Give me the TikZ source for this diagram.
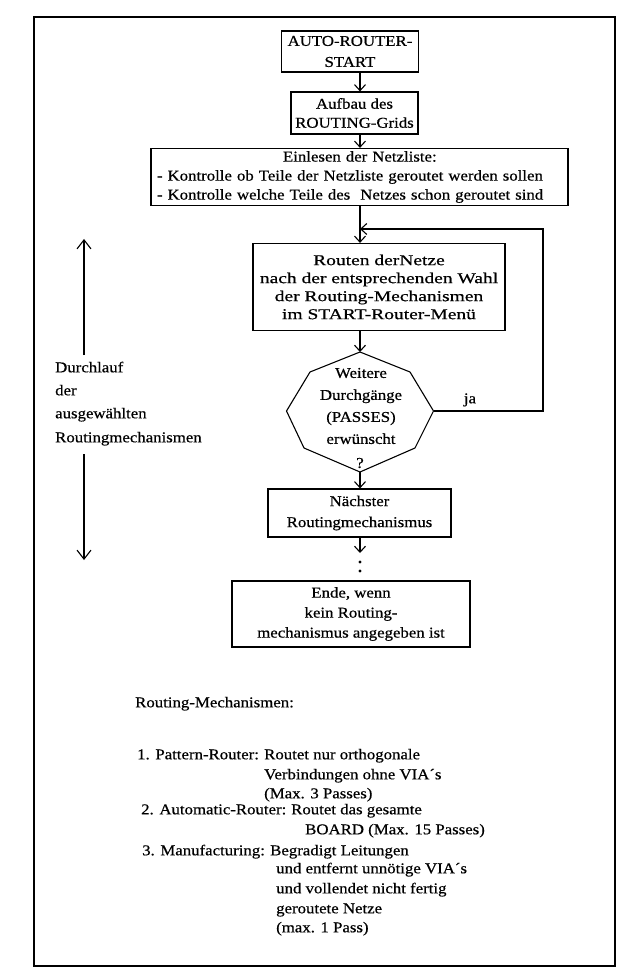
\documentclass[tikz,border=0pt]{standalone}
\usepackage{fontspec}
\setmainfont{Liberation Serif}[FakeStretch=1.12,FakeBold=0.6]
\newfontfamily\widefont{Liberation Serif}[FakeStretch=1.3,FakeBold=0.6]
\usetikzlibrary{arrows.meta}
\begin{document}
\begin{tikzpicture}[x=1pt,y=-1pt,
  every node/.style={inner sep=0pt, font=\fontsize{15}{19}\selectfont},
  box/.style={draw, line width=1.2pt, align=center},
  ln/.style={line width=1.1pt},
  arr/.style={line width=1.1pt, -{Straight Barb[length=6pt,width=11pt,line width=1.1pt]}},
  bigarr/.style={line width=1.1pt, -{Straight Barb[length=9pt,width=14pt,line width=1.1pt]}},
  lt/.style={anchor=mid west}]
\useasboundingbox (0,0) rectangle (627,976);
\draw[line width=1.6pt] (34,17) rectangle (615,966);
\coordinate (col) at (360,0);
% flow boxes
\node[box, minimum width=137pt, minimum height=41pt, font=\fontsize{15}{21}\selectfont] (auto) at (350,51.5) {AUTO-ROUTER-\\START};
\node[box, minimum width=127pt, minimum height=42pt] (aufbau) at (354.5,113) {Aufbau des\\ROUTING-Grids};
\node[box, minimum width=417pt, minimum height=57pt, align=left, text width=405pt] (einl) at (359.5,177) {\hspace*{126pt}Einlesen der Netzliste:\\- Kontrolle ob Teile der Netzliste geroutet werden sollen\\- Kontrolle welche Teile des \ Netzes schon geroutet sind};
\node[box, minimum width=252pt, minimum height=87pt, font=\widefont\fontsize{15}{18}\selectfont] (routen) at (379,287) {Routen derNetze\\nach der entsprechenden Wahl\\der Routing-Mechanismen\\im START-Router-Men\"u};
% decision octagon
\coordinate (oT) at (360,352);
\coordinate (oUR) at (410,372);
\coordinate (oR) at (433.5,411);
\coordinate (oLR) at (415,448);
\coordinate (oB) at (360,472);
\coordinate (oLL) at (304,448);
\coordinate (oL) at (286.5,411);
\coordinate (oUL) at (310,372);
\draw[ln] (oT) -- (oUR) -- (oR) -- (oLR) -- (oB) -- (oLL) -- (oL) -- (oUL) -- cycle;
\node[align=center, font=\fontsize{15}{22}\selectfont] (dec) at (361,406) {Weitere\\Durchg\"ange\\(PASSES)\\erw\"unscht};
\node (q) at (360,463) {?};
\node[box, minimum width=183pt, minimum height=48pt, font=\fontsize{15}{21}\selectfont] (next) at (359.5,513) {N\"achster\\Routingmechanismus};
\node[box, minimum width=238pt, minimum height=66pt, font=\fontsize{15}{20}\selectfont] (ende) at (351,614) {Ende, wenn\\kein Routing-\\mechanismus angegeben ist};
% connectors
\draw[arr] (col |- auto.south) -- (col |- aufbau.north);
\draw[arr] (col |- aufbau.south) -- (col |- einl.north);
\draw[arr] (col |- einl.south) -- (col |- routen.north);
\coordinate (loopTop) at (543,229);
\draw[arr] (oR) -| (loopTop) -- (col |- loopTop);
\node[anchor=mid] (ja) at (470,401) {ja};
\draw[arr] (col |- routen.south) -- (oT);
\draw[arr] (oB) -- (col |- next.north);
\coordinate (dotsTop) at (360,553);
\draw[arr] (col |- next.south) -- (dotsTop);
\fill (360,562) circle (1.7);
\fill (360,571) circle (1.7);
% left label
\node[lt] (l1) at (55,370) {Durchlauf};
\node[lt] (l2) at (55,393) {der};
\node[lt] (l3) at (55,416) {ausgew\"ahlten};
\node[lt] (l4) at (55,440) {Routingmechanismen};
\coordinate (upS) at (84,355);
\coordinate (upT) at (84,239);
\coordinate (dnS) at (84,454);
\coordinate (dnT) at (84,560);
\draw[bigarr] (upS) -- (upT);
\draw[bigarr] (dnS) -- (dnT);
% legend
\node[lt] (rm) at (135,705) {Routing-Mechanismen:};
\node[lt] (i1) at (137,757) {1. Pattern-Router:};
\node[lt] (i1a) at (264,757) {Routet nur orthogonale};
\node[lt] (i1b) at (264,777) {Verbindungen ohne VIA´s};
\node[lt] (i1c) at (264,796) {(Max. 3 Passes)};
\node[lt] (i2) at (141,812) {2. Automatic-Router:};
\node[lt] (i2a) at (291,812) {Routet das gesamte};
\node[lt] (i2b) at (305,832) {BOARD (Max. 15 Passes)};
\node[lt] (i3) at (142,853) {3. Manufacturing:};
\node[lt] (i3a) at (270,853) {Begradigt Leitungen};
\node[lt] (i3b) at (276,871) {und entfernt unn\"otige VIA´s};
\node[lt] (i3c) at (276,891) {und vollendet nicht fertig};
\node[lt] (i3d) at (276,911) {geroutete Netze};
\node[lt] (i3e) at (276,930) {(max. 1 Pass)};
\end{tikzpicture}
\end{document}
